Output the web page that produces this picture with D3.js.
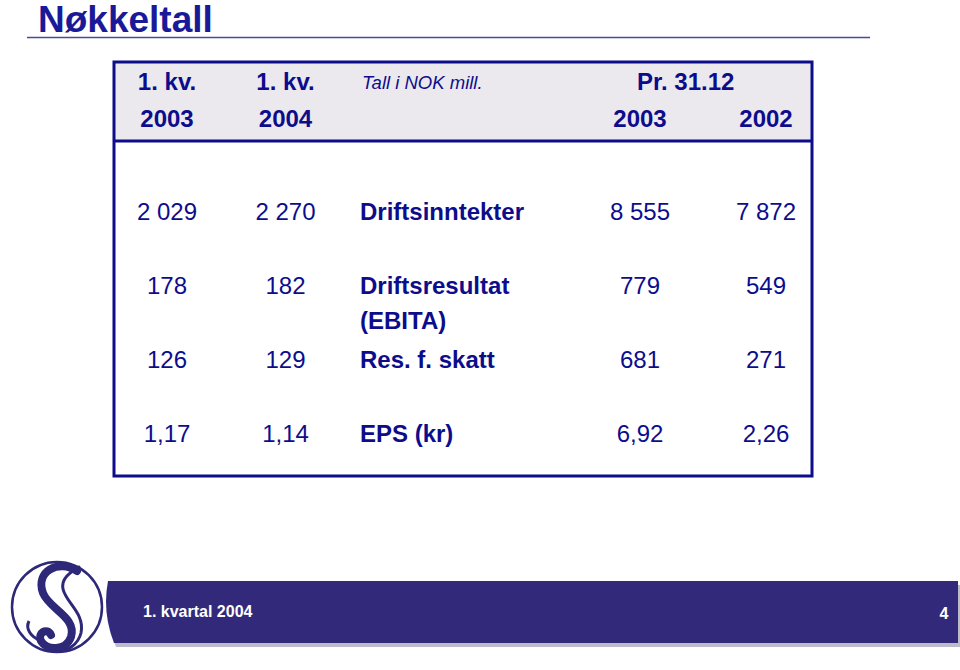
<!DOCTYPE html>
<html>
<head>
<meta charset="utf-8">
<script src="https://cdn.jsdelivr.net/npm/d3@7"></script>
<style>
  body { margin: 0; background: #fff; }
  svg { display: block; font-family: "Liberation Sans", Arial, sans-serif; }
</style>
</head>
<body>
<svg id="chart"></svg>
<script>
// table values (NOK mill.)
const rowLabels = [["Driftsinntekter"], ["Driftsresultat", "(EBITA)"], ["Res. f. skatt"], ["EPS (kr)"]];
const q1_2003 = [2029, 178, 126, 1.17];
const q1_2004 = [2270, 182, 129, 1.14];
const y2003 = [8555, 779, 681, 6.92];
const y2002 = [7872, 549, 271, 2.26];
const isDecimal = [false, false, false, true];
const headTop = ["1. kv.", "1. kv."];
const headYears = ["2003", "2004", "2003", "2002"];
const unitNote = "Tall i NOK mill.";
const periodHead = "Pr. 31.12";

const width = 960, height = 670;
const navy = "#0d0d8c";

const svg = d3.select("#chart")
    .attr("width", width)
    .attr("height", height);

// norwegian number format: space as thousands, comma as decimal
const no = d3.formatLocale({ decimal: ",", thousands: " ", grouping: [3], currency: ["", ""] });
const fmtInt = no.format(",d");
const fmtDec = no.format(",.2f");
const fmt = (v, i) => isDecimal[i] ? fmtDec(v) : fmtInt(v);

// title
svg.append("text")
    .attr("x", 38).attr("y", 32)
    .style("font-size", "37px").style("font-weight", "bold")
    .style("fill", "#1a1a99")
    .text("Nøkkeltall");
svg.append("line")
    .attr("x1", 27).attr("x2", 870).attr("y1", 37.5).attr("y2", 37.5)
    .style("stroke", "#4a4a96").style("stroke-width", 1.5);

// table frame
const box = { left: 114, right: 812, top: 62, headBottom: 141, bottom: 476 };
svg.append("rect")
    .attr("x", box.left).attr("y", box.top)
    .attr("width", box.right - box.left).attr("height", box.headBottom - box.top)
    .style("fill", "#ebe9ee");
svg.append("rect")
    .attr("x", box.left).attr("y", box.top)
    .attr("width", box.right - box.left).attr("height", box.bottom - box.top)
    .style("fill", "none").style("stroke", navy).style("stroke-width", 3);
svg.append("line")
    .attr("x1", box.left).attr("x2", box.right)
    .attr("y1", box.headBottom).attr("y2", box.headBottom)
    .style("stroke", navy).style("stroke-width", 3);

// columns
const cols = ["q1_2003", "q1_2004", "label", "y2003", "y2002"];
const x = d3.scaleOrdinal().domain(cols).range([167, 285.5, 360, 640, 766]);
const numCols = [["q1_2003", q1_2003], ["q1_2004", q1_2004], ["y2003", y2003], ["y2002", y2002]];

// rows
const y = d3.scalePoint()
    .domain(d3.range(rowLabels.length))
    .range([220, 442]);
const lineH = 35;

// header
const head = svg.append("g")
    .style("fill", navy).style("font-size", "24px").style("font-weight", "bold");
head.selectAll("text.top")
    .data(headTop)
    .join("text")
    .attr("class", "top")
    .attr("x", (d, i) => x(cols[i]))
    .attr("y", 90)
    .attr("text-anchor", "middle")
    .text(d => d);
head.selectAll("text.yr")
    .data(headYears)
    .join("text")
    .attr("class", "yr")
    .attr("x", (d, i) => x(numCols[i][0]))
    .attr("y", 126.5)
    .attr("text-anchor", "middle")
    .text(d => d);
head.append("text")
    .attr("x", x("y2003") - 3).attr("y", 90)
    .text(periodHead);
svg.append("text")
    .attr("x", x("label") + 2).attr("y", 89)
    .style("fill", navy).style("font-size", "18.5px").style("font-style", "italic")
    .text(unitNote);

// body numbers
const body = svg.append("g").style("fill", navy).style("font-size", "24px");
numCols.forEach(([key, vals]) => {
    body.selectAll("text." + key)
        .data(vals)
        .join("text")
        .attr("class", key)
        .attr("x", x(key))
        .attr("y", (d, i) => y(i))
        .attr("text-anchor", "middle")
        .text((d, i) => fmt(d, i));
});

// body labels
body.selectAll("text.label")
    .data(rowLabels)
    .join("text")
    .attr("class", "label")
    .attr("x", x("label"))
    .attr("y", (d, i) => y(i))
    .style("font-weight", "bold")
    .selectAll("tspan")
    .data(d => d)
    .join("tspan")
    .attr("x", x("label"))
    .attr("dy", (d, j) => j === 0 ? 0 : lineH)
    .text(d => d);

// footer band with shadow
const band = { x: 108, top: 581, bottom: 643, right: 958 };
const bandPath = (dx, dy) => {
    const p = d3.path();
    p.moveTo(band.x + dx, band.top + dy);
    p.lineTo(band.right + dx, band.top + dy);
    p.lineTo(band.right + dx, band.bottom + dy);
    p.lineTo(band.x + dx + 6, band.bottom + dy);
    p.quadraticCurveTo(band.x + dx - 6, (band.top + band.bottom) / 2 + dy, band.x + dx, band.top + dy);
    p.closePath();
    return p.toString();
};
svg.append("path").attr("d", bandPath(2, 4)).style("fill", "#bdbbc9");
svg.append("path").attr("d", bandPath(0, 0)).style("fill", "#33297b");

svg.append("text")
    .attr("x", 143).attr("y", 617)
    .style("fill", "#fff").style("font-size", "16px").style("font-weight", "bold")
    .text("1. kvartal 2004");
svg.append("text")
    .attr("x", 944).attr("y", 619)
    .attr("text-anchor", "middle")
    .style("fill", "#fff").style("font-size", "16px").style("font-weight", "bold")
    .text("4");

// logo: ring with stylised S
const logo = svg.append("g").attr("transform", "translate(57,607)");
logo.append("circle")
    .attr("r", 45)
    .style("fill", "#fff").style("stroke", "#2e2878").style("stroke-width", 2.5);
logo.append("path")
    .attr("d", "M20,-36 C2,-48 -22,-36 -14,-14 C-8,2 20,10 14,30 C9,44 -10,44 -16,34 C-20,26 -10,20 -6,28")
    .style("fill", "none").style("stroke", "#2e2878").style("stroke-width", 8).style("stroke-linecap", "round");
logo.append("path")
    .attr("d", "M22,-40 C12,-34 4,-28 6,-18 C9,-4 28,6 24,26 C21,38 10,44 2,44")
    .style("fill", "none").style("stroke", "#2e2878").style("stroke-width", 3).style("stroke-linecap", "round");
logo.append("path")
    .attr("d", "M-16,34 C-26,30 -32,22 -28,14")
    .style("fill", "none").style("stroke", "#2e2878").style("stroke-width", 3);
</script>
</body>
</html>
